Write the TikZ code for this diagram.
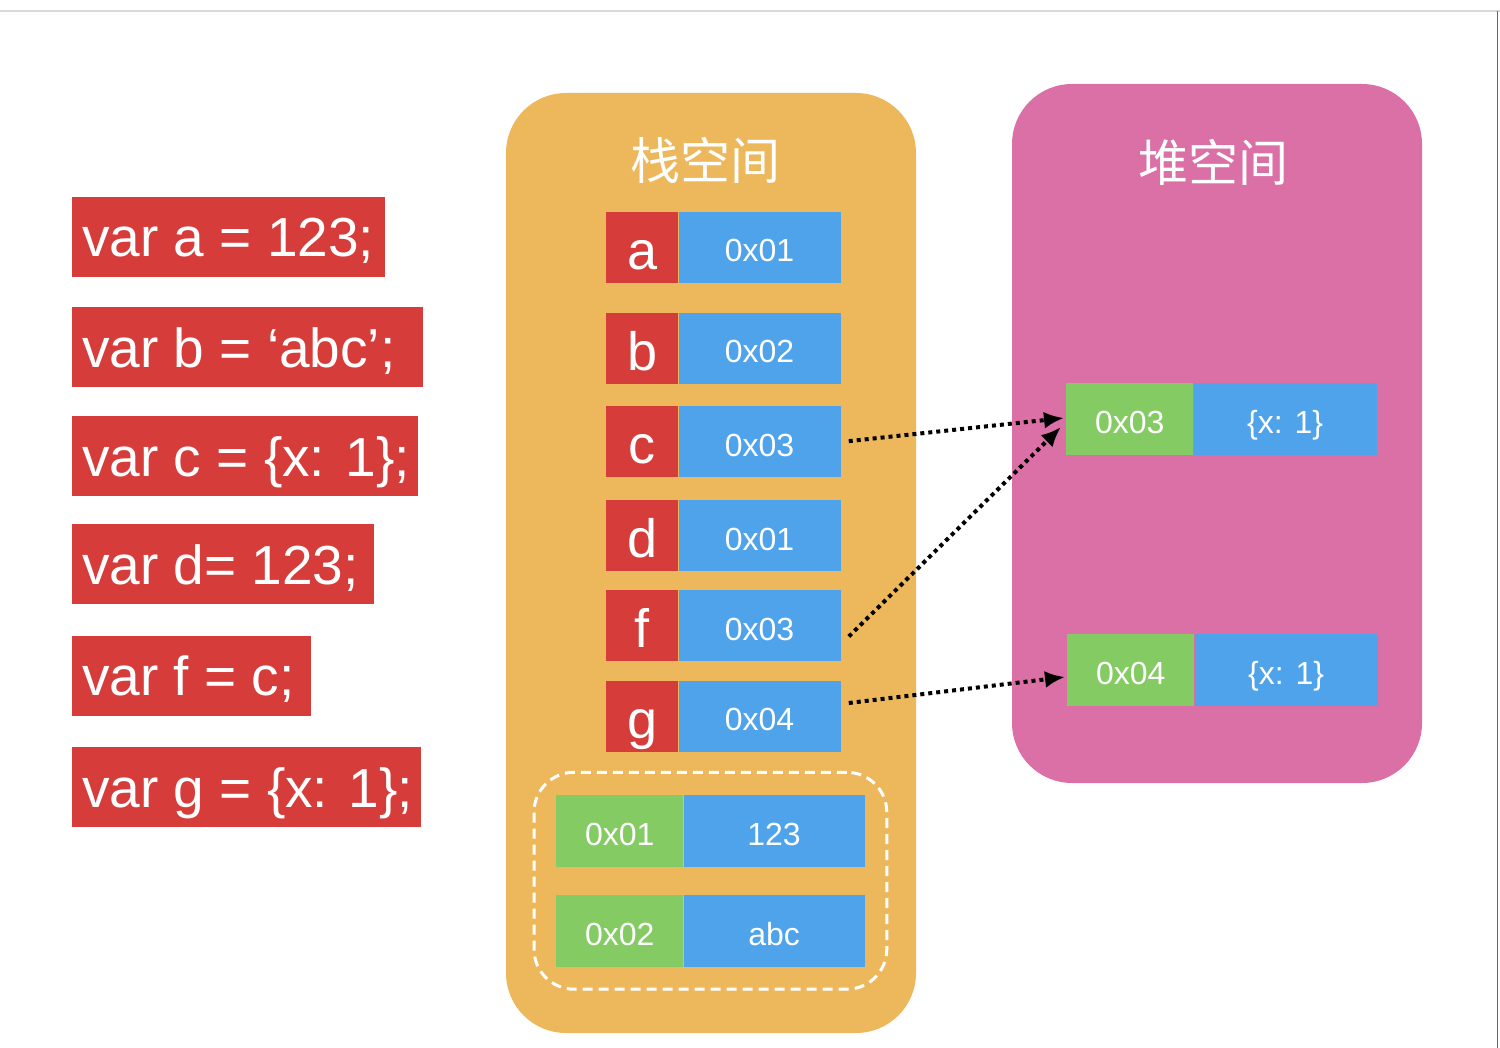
\documentclass[tikz,border=0pt]{standalone}
\usepackage{fontspec}
\setmainfont{Liberation Sans}
\newfontfamily\cjkfont{Noto Sans CJK SC}
\usetikzlibrary{arrows.meta,calc,positioning,fit}
\definecolor{codered}{HTML}{D63D3A}
\definecolor{cellblue}{HTML}{4FA3EB}
\definecolor{cellgreen}{HTML}{84CB63}
\definecolor{stackorange}{HTML}{EDB75C}
\definecolor{heappink}{HTML}{DB70A6}
\definecolor{framegray}{HTML}{DADADA}
\newcommand{\codetext}[2]{\makebox[#1][l]{#2}}
\tikzset{
  codebox/.style={fill=codered, text=white, anchor=west, minimum height=80pt, inner xsep=10pt, inner ysep=0pt, text height=44pt, text depth=4pt, font=\fontsize{55}{60}\selectfont},
  keycell/.style={fill=codered, text=white, anchor=west, minimum width=72pt, minimum height=71pt, inner sep=0pt, text height=44pt, text depth=0pt, font=\fontsize{54}{60}\selectfont},
  addrcell/.style={fill=cellblue, text=white, minimum width=162pt, minimum height=71pt, inner sep=0pt, text height=29pt, text depth=0pt, font=\fontsize{32}{36}\selectfont},
  ptrcell/.style={fill=cellgreen, text=white, anchor=west, minimum width=127pt, minimum height=72pt, inner sep=0pt, text height=29pt, text depth=0pt, font=\fontsize{32}{36}\selectfont},
  valcell/.style={fill=cellblue, text=white, minimum height=72pt, inner sep=0pt, text height=29pt, text depth=0pt, font=\fontsize{32}{36}\selectfont},
  paneltitle/.style={text=white, font=\cjkfont\fontsize{50}{56}\selectfont},
  ptrarrow/.style={black, line width=4pt, dash pattern=on 4pt off 4pt, -{Latex[length=20pt,width=17pt]}}
}
\begin{document}
\begin{tikzpicture}[x=1pt,y=-1pt]
  \useasboundingbox (0,0) rectangle (1500,1048);
  \draw[framegray, line width=2pt] (0,11)--(1500,11);
  \draw[black!60, line width=1pt] (1497,11)--(1497,1048);
  % code lines
  \node[codebox] (ca) at (72,237) {\codetext{293pt}{var a = 123;}};
  \node[codebox] (cb) at (72,347.5) {\codetext{331pt}{var b = ‘abc’;}};
  \node[codebox] (cc) at (72,456) {\codetext{326pt}{var c = \{x: 1\};}};
  \node[codebox] (cd) at (72,564) {\codetext{282pt}{var d= 123;}};
  \node[codebox] (cf) at (72,675.5) {\codetext{219pt}{var f = c;}};
  \node[codebox] (cg) at (72,787) {\codetext{329pt}{var g = \{x: 1\};}};
  % panels
  \fill[stackorange, rounded corners=60pt] (506,93) rectangle (916,1033);
  \fill[heappink, rounded corners=60pt] (1012,84) rectangle (1422,783);
  \node[paneltitle] (stacktitle) at (705,160) {栈空间};
  \node[paneltitle] (heaptitle) at (1213,162) {堆空间};
  % stack
  \foreach \k/\v/\y in {a/0x01/247.5, b/0x02/348.5, c/0x03/442, d/0x01/535.5, f/0x03/625.5, g/0x04/716}{
    \node[keycell] (k\k) at (606,\y) {\k};
    \node[addrcell, right=0pt of k\k] (v\k) {\v};
  }
  \node[ptrcell] (p1) at (556,830.5) {0x01};
  \node[valcell, minimum width=181pt, right=0pt of p1] (q1) {123};
  \node[ptrcell] (p2) at (556,931) {0x02};
  \node[valcell, minimum width=181pt, right=0pt of p2] (q2) {abc};
  \node[draw=white, line width=3pt, dash pattern=on 10pt off 6pt, rounded corners=40pt, inner sep=22pt, fit=(p1)(q1)(p2)(q2)] (pool) {};
  % heap
  \node[ptrcell] (h3) at (1066,419) {0x03};
  \node[valcell, minimum width=183pt, right=0pt of h3] (o3) {\{x: 1\}};
  \node[ptrcell] (h4) at (1067,670) {0x04};
  \node[valcell, minimum width=183pt, right=0pt of h4] (o4) {\{x: 1\}};
  % references
  \draw[ptrarrow, shorten <=8pt] (vc.east) -- ($(h3.west)+(-2,-1)$);
  \draw[ptrarrow] ($(vf.east)+(8,11)$) -- ($(h3.west)+(-5,8)$);
  \draw[ptrarrow] ($(vg.east)+(8,-13)$) -- ($(h4.west)+(-2,7)$);
\end{tikzpicture}
\end{document}
